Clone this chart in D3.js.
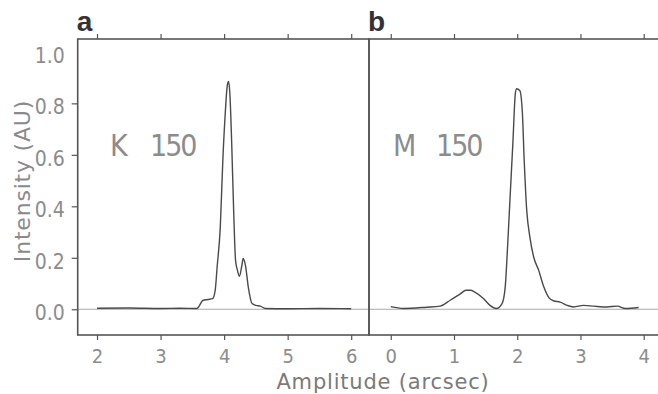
<!DOCTYPE html>
<html>
<head>
<meta charset="utf-8">
<script src="https://cdn.jsdelivr.net/npm/d3@7"></script>
<style>
  html, body { margin: 0; padding: 0; background: #fff; }
  svg text { font-family: "DejaVu Sans Condensed", "DejaVu Sans", sans-serif; }
</style>
</head>
<body>
<svg id="chart"></svg>
<script>
const width = 658;
const height = 394;

// K 150 profile (panel a)
const kAmp = [2.0, 2.5, 3.0, 3.3, 3.57, 3.67, 3.75, 3.82, 3.86, 3.89, 3.94, 3.98, 4.02, 4.05, 4.07,
  4.09, 4.12, 4.15, 4.18, 4.21, 4.24, 4.28, 4.30, 4.34, 4.38, 4.44, 4.50, 4.57, 4.65, 5.0, 5.5, 6.0];
const kInt = [0.004, 0.005, 0.003, 0.004, 0.003, 0.035, 0.038, 0.041, 0.074, 0.164, 0.32, 0.58, 0.77, 0.87, 0.885,
  0.84, 0.64, 0.385, 0.19, 0.151, 0.128, 0.171, 0.197, 0.164, 0.087, 0.022, 0.015, 0.012, 0.003, 0.002, 0.003, 0.002];

// M 150 profile (panel b)
const mAmp = [0.0, 0.2, 0.57, 0.78, 0.94, 1.1, 1.19, 1.26, 1.33, 1.47, 1.57, 1.67, 1.76, 1.81, 1.85, 1.89,
  1.93, 1.97, 1.99, 2.04, 2.08, 2.11, 2.15, 2.20, 2.26, 2.34, 2.42, 2.50, 2.58, 2.68, 2.79, 2.89,
  3.05, 3.21, 3.42, 3.58, 3.71, 3.92];
const mInt = [0.01, 0.003, 0.008, 0.012, 0.035, 0.06, 0.074, 0.074, 0.067, 0.041, 0.015, 0.003, 0.022, 0.087, 0.255, 0.45,
  0.64, 0.838, 0.857, 0.85, 0.77, 0.58, 0.385, 0.28, 0.203, 0.151, 0.087, 0.045, 0.032, 0.028, 0.015, 0.009,
  0.015, 0.012, 0.009, 0.012, 0.003, 0.007];

const yTicks = [0.0, 0.2, 0.4, 0.6, 0.8, 1.0];
const xTicksA = [2, 3, 4, 5, 6];
const xTicksB = [0, 1, 2, 3, 4];

const plotTop = 39, plotBottom = 335;
const frameColor = "#555";
const textColor = "#8c8c8c";

const svg = d3.select("#chart").attr("width", width).attr("height", height);

const y = d3.scaleLinear().domain([-0.1, 1.05]).range([plotBottom, plotTop]);

const panels = [
  { letter: "a", name: "K", num: "150", amp: kAmp, val: kInt, ticks: xTicksA,
    domain: [1.696, 6.28], range: [77.7, 369], nameX: 110, numX: 150 },
  { letter: "b", name: "M", num: "150", amp: mAmp, val: mInt, ticks: xTicksB,
    domain: [-0.344, 4.4], range: [369, 669], nameX: 393, numX: 436 }
];

// zero line across both panels
svg.append("line")
  .attr("x1", 77.7).attr("x2", width)
  .attr("y1", y(0)).attr("y2", y(0))
  .attr("stroke", "#aaa").attr("stroke-width", 1);

panels.forEach((p) => {
  const x = d3.scaleLinear().domain(p.domain).range(p.range);

  // bottom and top ticks
  const bottomAxis = svg.append("g")
    .attr("transform", `translate(0,${plotBottom})`)
    .call(d3.axisBottom(x).tickValues(p.ticks).tickSize(5).tickPadding(9).tickFormat(d3.format("d")));
  bottomAxis.select(".domain").remove();
  bottomAxis.selectAll("line").attr("stroke", frameColor).attr("stroke-width", 1.2);
  bottomAxis.selectAll("text").attr("fill", textColor).attr("font-size", 20);

  const topAxis = svg.append("g")
    .attr("transform", `translate(0,${plotTop})`)
    .call(d3.axisTop(x).tickValues(p.ticks).tickSize(5).tickFormat(""));
  topAxis.select(".domain").remove();
  topAxis.selectAll("line").attr("stroke", frameColor).attr("stroke-width", 1.2);

  // frame
  svg.append("rect")
    .attr("x", p.range[0]).attr("y", plotTop)
    .attr("width", p.range[1] - p.range[0]).attr("height", plotBottom - plotTop)
    .attr("fill", "none").attr("stroke", frameColor).attr("stroke-width", 1.6);

  const line = d3.line()
    .x((d, i) => x(p.amp[i]))
    .y((d) => y(d))
    .curve(d3.curveMonotoneX);

  svg.append("path")
    .datum(p.val)
    .attr("d", line)
    .attr("fill", "none")
    .attr("stroke", "#4a4a4a")
    .attr("stroke-width", 1.4);

  // sample label
  svg.append("text")
    .attr("x", p.nameX).attr("y", 156)
    .attr("fill", textColor).attr("font-size", 30)
    .text(p.name);
  svg.append("text")
    .attr("x", p.numX).attr("y", 156)
    .attr("fill", textColor).attr("font-size", 30).attr("letter-spacing", -2)
    .text(p.num);

  svg.append("text")
    .attr("x", p.range[0] - 1).attr("y", 31)
    .attr("fill", "#333").attr("font-size", 28).attr("font-weight", "bold")
    .style("font-family", "'Liberation Sans', Arial, sans-serif")
    .text(p.letter);
});

// left axis
const leftAxis = svg.append("g")
  .attr("transform", "translate(77.7,0)")
  .call(d3.axisLeft(y).tickValues(yTicks).tickSize(6).tickPadding(7).tickFormat(d3.format(".1f")));
leftAxis.select(".domain").remove();
leftAxis.selectAll("line").attr("stroke", frameColor).attr("stroke-width", 1.2)
  .attr("opacity", (d) => (d === 1.0 ? 0 : 1));
leftAxis.selectAll("text").attr("fill", textColor).attr("font-size", 21).attr("dy", "0.5em");

// axis titles
svg.append("text")
  .attr("x", 383).attr("y", 389)
  .attr("text-anchor", "middle")
  .attr("fill", "#7a7a7a").attr("font-size", 21).attr("letter-spacing", 0.8)
  .style("font-family", "'DejaVu Sans', sans-serif")
  .text("Amplitude (arcsec)");

svg.append("text")
  .attr("transform", "translate(30,181) rotate(-90)")
  .attr("text-anchor", "middle")
  .attr("fill", "#8a8a8a").attr("font-size", 22).attr("letter-spacing", 0.8)
  .style("font-family", "'DejaVu Sans', sans-serif")
  .text("Intensity (AU)");
</script>
</body>
</html>
